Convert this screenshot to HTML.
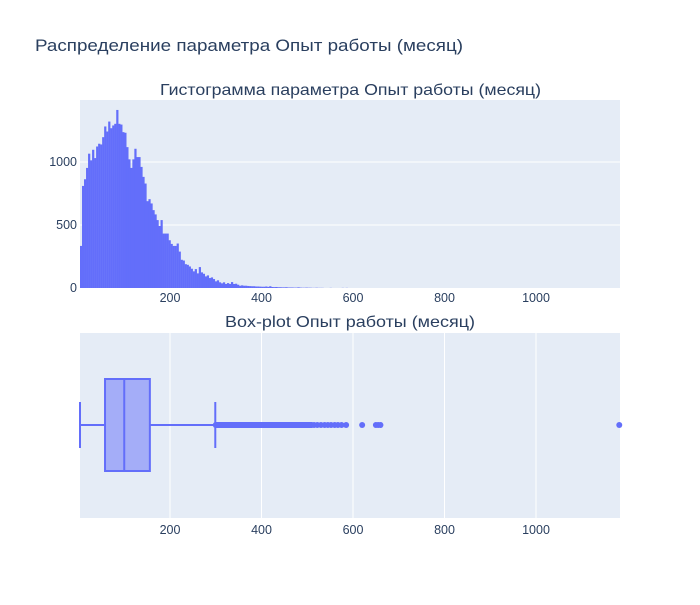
<!DOCTYPE html>
<html><head><meta charset="utf-8"><style>
body{margin:0;background:#fff;}
svg text{font-family:"Liberation Sans","DejaVu Sans",sans-serif;fill:#2a3f5f;}
</style></head><body>
<svg id="chart" width="700" height="600" xmlns="http://www.w3.org/2000/svg">
<rect width="700" height="600" fill="#fff"/>
<text x="35" y="51" font-size="17" textLength="428" lengthAdjust="spacingAndGlyphs">Распределение параметра Опыт работы (месяц)</text>
<text x="160" y="95" font-size="16" textLength="381" lengthAdjust="spacingAndGlyphs">Гистограмма параметра Опыт работы (месяц)</text>
<text x="225" y="327" font-size="16" textLength="250" lengthAdjust="spacingAndGlyphs">Box-plot Опыт работы (месяц)</text>
<rect x="80" y="100" width="540" height="188" fill="#e5ecf6"/>
<rect x="80" y="333" width="540" height="185" fill="#e5ecf6"/>
<g id="grid"></g><g id="marks"></g><g id="ticks"></g>
</svg>
<script>
const binStart = 3.3;
const binSize = 4.4;
const histCounts = [334,810,863,953,1066,1013,1097,1031,1123,1145,1139,1197,1282,1242,1321,1268,1290,1303,1413,1303,1297,1237,1232,1118,1021,953,1021,1105,1039,1039,961,882,829,689,705,671,618,584,539,492,539,432,432,432,379,350,334,334,353,289,224,218,189,184,171,153,132,150,116,166,124,113,92,100,79,84,71,53,61,45,37,45,32,39,32,47,32,34,26,18,21,18,18,16,15,14,14,12,12,11,10,10,12,9,14,8,7,8,6,6,5,5,6,4,4,4,3,3,5,3,2,2,3,2,2,1,1,2,1,1,1,0,0,0,1,0,0,0,0,0,1,0,1];
const xTicks = [200,400,600,800,1000];
const yTicks = [0,500,1000];
const boxStats = {min:3.3, q1:58, median:100, q3:156, upperFence:299};
const outliers = [620,650,655,660,1182];
const denseOutlierRange = [300,510];
const sparseOutliers = [515,522,530,538,545,552,560,567,575,585];

const NS="http://www.w3.org/2000/svg";
const xMin=3.3, xMax=1183.6, pxL=80, pxR=620;
const X=v=>pxL+(v-xMin)/(xMax-xMin)*(pxR-pxL);
const hTop=100,hBot=288,yMax=1492;
const Y=v=>hBot-v/yMax*(hBot-hTop);
function el(tag,attrs,parent){const e=document.createElementNS(NS,tag);for(const k in attrs)e.setAttribute(k,attrs[k]);document.getElementById(parent).appendChild(e);return e;}
xTicks.forEach(t=>{
  const g=el('line',{x1:X(t),x2:X(t),y1:333,y2:518,stroke:'#fff','stroke-width':1},'grid');
  
  
  [302,534].forEach(yy=>{const tx=el('text',{x:X(t),y:yy,'font-size':12.5,'text-anchor':'middle'},'ticks');tx.textContent=t;
    
    });
});
yTicks.forEach(t=>{
  if(t>0){const g=el('line',{x1:80,x2:620,y1:Y(t),y2:Y(t),stroke:'#fff','stroke-width':1},'grid');
  
  }
  const tx=el('text',{x:77,y:Y(t)+4,'font-size':12.5,'text-anchor':'end'},'ticks');tx.textContent=t;
  
  
});
histCounts.forEach((c,i)=>{
  if(c<=0)return;
  const x0=X(binStart+i*binSize),x1=X(binStart+(i+1)*binSize);
  const r=el('rect',{x:x0,y:Y(c),width:x1-x0+0.2,height:hBot-Y(c),fill:'#636efa'},'marks');
  
  
});
const cy=425,bh=46,ch=23,col='#636efa';
let w=el('line',{x1:X(boxStats.min),x2:X(boxStats.q1),y1:cy,y2:cy,stroke:col,'stroke-width':2},'marks');


w=el('line',{x1:X(boxStats.q3),x2:X(boxStats.upperFence),y1:cy,y2:cy,stroke:col,'stroke-width':2},'marks');


[boxStats.min,boxStats.upperFence].forEach(v=>{const c=el('line',{x1:X(v),x2:X(v),y1:cy-ch,y2:cy+ch,stroke:col,'stroke-width':2},'marks');
  
  });
const b=el('rect',{x:X(boxStats.q1),y:cy-bh,width:X(boxStats.q3)-X(boxStats.q1),height:2*bh,fill:'rgba(99,110,250,0.5)',stroke:col,'stroke-width':2},'marks');


const m=el('line',{x1:X(boxStats.median),x2:X(boxStats.median),y1:cy-bh,y2:cy+bh,stroke:col,'stroke-width':2},'marks');


const d=el('line',{x1:X(denseOutlierRange[0]),x2:X(denseOutlierRange[1]),y1:cy,y2:cy,stroke:col,'stroke-width':6,'stroke-linecap':'round'},'marks');


sparseOutliers.concat(outliers).forEach(v=>{const p=el('circle',{cx:X(v),cy:cy,r:3,fill:col},'marks');
  
  });
</script>
</body></html>
